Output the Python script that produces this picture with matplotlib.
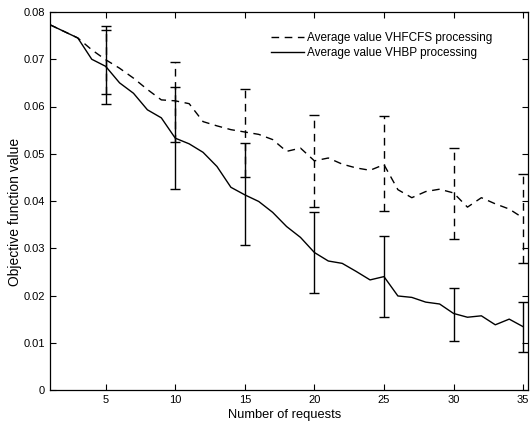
import matplotlib
matplotlib.use("Agg")
import matplotlib.pyplot as plt
import numpy as np

plt.rcParams['font.family'] = ['Liberation Sans', 'DejaVu Sans']

requests = list(range(1, 36))
vhbp = [0.0773, 0.0759, 0.0745, 0.0700, 0.0685, 0.0650, 0.0628, 0.0593, 0.0576, 0.0533,
        0.0521, 0.0503, 0.0473, 0.0429, 0.0413, 0.0399, 0.0376, 0.0346, 0.0323, 0.0291,
        0.0273, 0.0268, 0.0251, 0.0233, 0.0240, 0.0199, 0.0196, 0.0186, 0.0182, 0.0162,
        0.0154, 0.0157, 0.0138, 0.0150, 0.0134]
vhfcfs = [0.0773, 0.0759, 0.0745, 0.0720, 0.0699, 0.0681, 0.0660, 0.0636, 0.0614, 0.0612,
          0.0606, 0.0568, 0.0559, 0.0551, 0.0546, 0.0541, 0.0530, 0.0505, 0.0512, 0.0485,
          0.0491, 0.0478, 0.0470, 0.0465, 0.0477, 0.0424, 0.0407, 0.0420, 0.0425, 0.0417,
          0.0387, 0.0407, 0.0394, 0.0383, 0.0364]

err_x = [5, 10, 15, 20, 25, 30, 35]
vhfcfs_low = [0.0626, 0.0524, 0.0450, 0.0387, 0.0379, 0.0320, 0.0268]
vhfcfs_high = [0.0761, 0.0695, 0.0637, 0.0581, 0.0580, 0.0512, 0.0457]
vhbp_low = [0.0606, 0.0426, 0.0306, 0.0205, 0.0154, 0.0104, 0.0080]
vhbp_high = [0.0771, 0.0641, 0.0523, 0.0376, 0.0325, 0.0215, 0.0187]

labels = ['Average value VHFCFS processing', 'Average value VHBP processing']

fig = plt.figure(figsize=(5.30, 4.32), dpi=100)
ax = fig.add_axes([50/530, 1-390/432, 478/530, 378/432])

ax.plot(requests, vhfcfs, color='black', lw=1.0, ls=(0, (5.5, 4)), label=labels[0])
ax.plot(requests, vhbp, color='black', lw=1.0, ls='-', label=labels[1])

def bars(low, high, ls):
    lo = np.array(low); hi = np.array(high)
    mid = (lo + hi) / 2
    eb = ax.errorbar(err_x, mid, yerr=[mid - lo, hi - mid], fmt='none', ecolor='black',
                     elinewidth=1.0, capsize=3.6, capthick=1.0)
    for lc in eb[2]:
        lc.set_linestyle(ls)

bars(vhfcfs_low, vhfcfs_high, (0, (5.5, 4)))
bars(vhbp_low, vhbp_high, '-')

ax.set_xlim(1, 35.35)
ax.set_ylim(0, 0.08)
ax.set_xticks([5, 10, 15, 20, 25, 30, 35])
ax.set_yticks([0, 0.01, 0.02, 0.03, 0.04, 0.05, 0.06, 0.07, 0.08])
ax.set_yticklabels(['0', '0.01', '0.02', '0.03', '0.04', '0.05', '0.06', '0.07', '0.08'])
ax.tick_params(direction='in', top=True, right=True, labelsize=8, length=4, width=0.8)
for s in ax.spines.values():
    s.set_linewidth(0.9)

ax.set_xlabel('Number of requests', fontsize=9.3)
ax.set_ylabel('Objective function value', fontsize=10)
ax.xaxis.set_label_coords((285 - 50) / 478, -(415 - 390) / 378 - 0.0)
ax.yaxis.set_label_coords(-(50 - 15) / 478, (390 - 212) / 378)
ax.xaxis.label.set_verticalalignment('center')
ax.yaxis.label.set_verticalalignment('center')

leg = ax.legend(loc='upper left', bbox_to_anchor=(0.462, 0.946), frameon=False,
                fontsize=8.5, handlelength=2.8, handletextpad=0.25, labelspacing=0.2,
                borderpad=0, borderaxespad=0)

fig.savefig('out.png', dpi=100)
